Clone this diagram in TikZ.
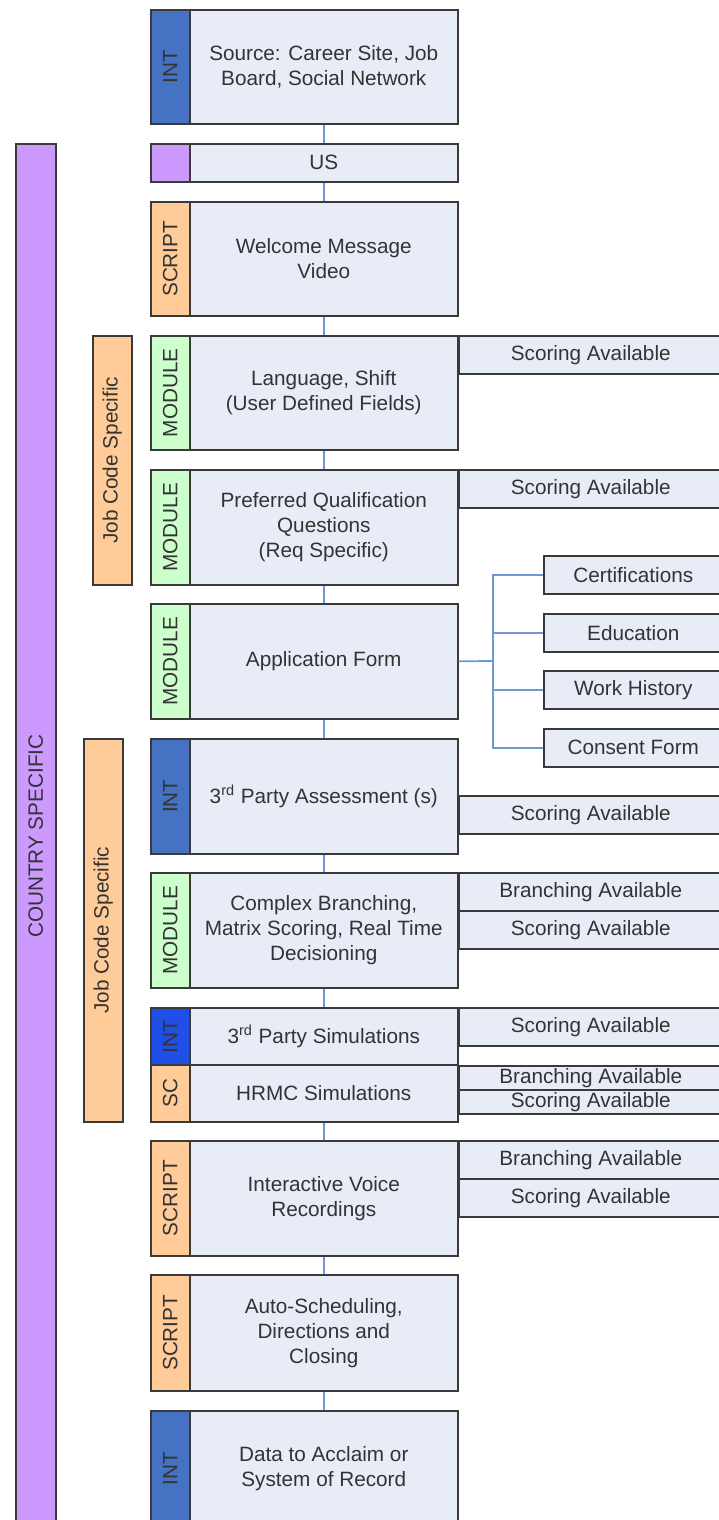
\documentclass[tikz,border=0pt]{standalone}
\usepackage{fontspec}
\setmainfont{Liberation Sans}
\usepackage{graphicx}
\usepackage{tikz}
\definecolor{intblue}{HTML}{4672C4}
\definecolor{intbright}{HTML}{1F4FE6}
\definecolor{cspurple}{HTML}{CC99FF}
\definecolor{scriptorange}{HTML}{FFCC99}
\definecolor{modgreen}{HTML}{CCFFCC}
\definecolor{boxfill}{HTML}{E7ECF7}
\definecolor{linkblue}{HTML}{6D97D6}
\definecolor{edge}{HTML}{3A3A3A}
\tikzset{
every node/.style={font=\fontsize{11.8}{14.2}\selectfont, text=black!80},
stage/.style={draw=edge, line width=0.9pt, fill=boxfill, align=center, inner sep=0pt, minimum width=5.36cm},
tabbox/.style={draw=edge, line width=0.9pt, inner sep=0pt, minimum width=0.78cm},
side/.style={draw=edge, line width=0.9pt, fill=boxfill, inner sep=0pt, minimum width=5.28cm, minimum height=0.76cm},
subform/.style={draw=edge, line width=0.9pt, fill=boxfill, inner sep=0pt, minimum width=3.58cm, minimum height=0.76cm},
band/.style={draw=edge, line width=0.9pt, inner sep=0pt, minimum width=0.78cm},
link/.style={draw=linkblue, line width=1pt}
}

\begin{document}
\begin{tikzpicture}[x=0.02cm, y=-0.02cm]
  \useasboundingbox (0,0) rectangle (719,1520);
  % scope bands on the left
  \node[band, fill=cspurple, minimum width=0.8cm, minimum height=27.7cm, anchor=north west] (country) at (15,143) {\rotatebox{90}{COUNTRY SPECIFIC}};
  \node[band, fill=scriptorange, minimum height=4.98cm, anchor=north west] (jobcode1) at (92,335) {\rotatebox{90}{Job Code Specific}};
  \node[band, fill=scriptorange, minimum height=7.66cm, anchor=north west] (jobcode2) at (83,738) {\rotatebox{90}{Job Code Specific}};
  % main column
  \foreach \nm/\ya/\hh/\col/\tabtxt/\txt in {
      src/9/114/intblue/INT/{Source: Career Site, Job\\Board, Social Network},
      us/143/38/cspurple//US,
      welcome/201/114/scriptorange/SCRIPT/{Welcome Message\\Video},
      lang/335/114/modgreen/MODULE/{Language, Shift\\(User Defined Fields)},
      pref/469/115/modgreen/MODULE/{Preferred Qualification\\Questions\\(Req Specific)},
      app/603/115/modgreen/MODULE/{Application Form},
      assess/738/115/intblue/INT/{3\textsuperscript{rd} Party Assessment (s)},
      branch/872/115/modgreen/MODULE/{Complex Branching,\\Matrix Scoring, Real Time\\Decisioning},
      sim/1007/57/intbright/INT/{3\textsuperscript{rd} Party Simulations},
      hrmc/1064/57/scriptorange/SC/{HRMC Simulations},
      voice/1140/115/scriptorange/SCRIPT/{Interactive Voice\\Recordings},
      sched/1274/116/scriptorange/SCRIPT/{Auto-Scheduling,\\Directions and\\Closing},
      data/1410/116/intblue/INT/{Data to Acclaim or\\System of Record}}
  {
    \node[stage, minimum height=\hh*0.02cm, anchor=north west] (\nm) at (189,\ya) {\txt};
    \node[tabbox, fill=\col, minimum height=\hh*0.02cm, anchor=north west] (\nm-tab) at (150,\ya) {\rotatebox{90}{\tabtxt}};
  }
  \foreach \a/\b in {src/us, us/welcome, welcome/lang, lang/pref, pref/app, app/assess,
      assess/branch, branch/sim, hrmc/voice, voice/sched, sched/data}
    \draw[link] (\a.south) -- (\b.north);
  % options on the right
  \node[side, anchor=north west] (lang-score) at (458,335) {Scoring Available};
  \node[side, anchor=north west] (pref-score) at (458,469) {Scoring Available};
  \node[side, anchor=north west] (assess-score) at (458,795) {Scoring Available};
  \node[side, anchor=north west] (branch-branch) at (458,872) {Branching Available};
  \node[side, anchor=north west] (branch-score) at (458,910) {Scoring Available};
  \node[side, anchor=north west] (sim-score) at (458,1007) {Scoring Available};
  \node[side, minimum height=0.48cm, anchor=north west] (hrmc-branch) at (458,1065) {Branching Available};
  \node[side, minimum height=0.48cm, anchor=north west] (hrmc-score) at (458,1089) {Scoring Available};
  \node[side, anchor=north west] (voice-branch) at (458,1140) {Branching Available};
  \node[side, anchor=north west] (voice-score) at (458,1178) {Scoring Available};
  % application form parts
  \node[subform, anchor=north west] (cert) at (543,555) {Certifications};
  \node[subform, anchor=north west] (edu) at (543,613) {Education};
  \node[subform, anchor=north west] (work) at (543,670) {Work History};
  \node[subform, anchor=north west] (consent) at (543,728) {Consent Form};
  \coordinate (split) at (493,661);
  \draw[link] (app.east) -- (split);
  \foreach \n in {cert, edu, work, consent}
    \draw[link] (split) |- (\n.west);
\end{tikzpicture}
\end{document}
